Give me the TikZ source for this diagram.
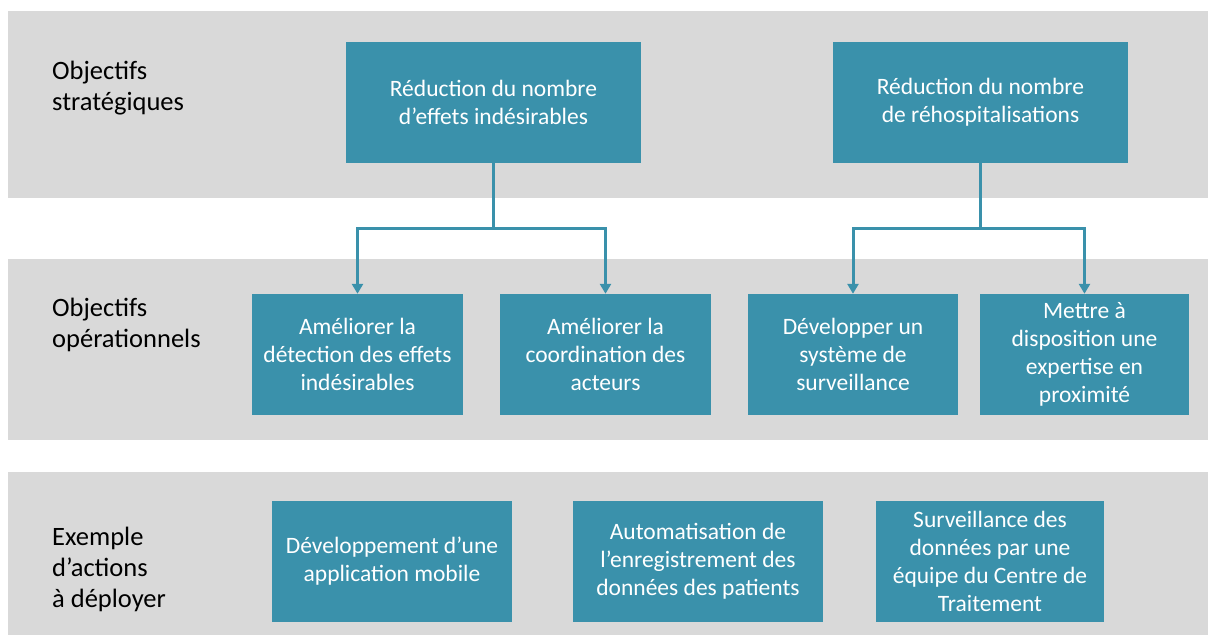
\documentclass[tikz,border=0pt]{standalone}
\usepackage{fontspec}
\setmainfont{Carlito}
\usetikzlibrary{arrows.meta}
\definecolor{bleu}{RGB}{58,145,171}
\definecolor{gris}{RGB}{217,217,217}
\tikzset{
  bande/.style={fill=gris,draw=none},
  boite/.style={fill=bleu,draw=none,text=white,align=center,inner sep=2pt,
    minimum height=121pt,font=\fontsize{23.5}{28}\selectfont},
  titre/.style={anchor=west,align=left,inner sep=0pt,text=black,
    font=\fontsize{26.5}{31}\selectfont},
  fleche/.style={draw=bleu,line width=3pt,-{Triangle[width=11pt,length=10pt]}}
}
\begin{document}
\begin{tikzpicture}[x=1pt,y=-1pt]
  \useasboundingbox (0,0) rectangle (1208,635);
  % les trois bandes
  \fill[bande] (8,11) rectangle (1208,198);
  \fill[bande] (8,259) rectangle (1208,440);
  \fill[bande] (8,472) rectangle (1208,635);
  % titres des niveaux
  \node[titre] (tstrat) at (52,88) {Objectifs\\strat\'egiques};
  \node[titre] (toper) at (52,325) {Objectifs\\op\'erationnels};
  \node[titre] (tact) at (52,569) {Exemple\\d’actions\\à déployer};
  % objectifs strategiques
  \node[boite,minimum width=295pt] (s1) at (493.5,102.5) {Réduction du nombre\\d’effets indésirables};
  \node[boite,minimum width=295pt] (s2) at (980.5,102.5) {Réduction du nombre\\de réhospitalisations};
  % objectifs operationnels
  \node[boite,minimum width=211pt] (o1) at (357.5,354.5) {Améliorer la\\détection des effets\\indésirables};
  \node[boite,minimum width=211pt] (o2) at (605.5,354.5) {Améliorer la\\coordination des\\acteurs};
  \node[boite,minimum width=210pt] (o3) at (853,354.5) {Développer un\\système de\\surveillance};
  \node[boite,minimum width=209pt] (o4) at (1084.5,354.5) {Mettre à\\disposition une\\expertise en\\proximité};
  % actions
  \node[boite,minimum width=240pt] (a1) at (392,561.5) {Développement d’une\\application mobile};
  \node[boite,minimum width=250pt] (a2) at (698,561.5) {Automatisation de\\l’enregistrement des\\données des patients};
  \node[boite,minimum width=228pt] (a3) at (990,561.5) {Surveillance des\\données par une\\équipe du Centre de\\Traitement};
  % liens
  \draw[fleche] (s1.south) -- ++(0,65) -| (o1.north);
  \draw[fleche] (s1.south) -- ++(0,65) -| (o2.north);
  \draw[fleche] (s2.south) -- ++(0,65) -| (o3.north);
  \draw[fleche] (s2.south) -- ++(0,65) -| (o4.north);
\end{tikzpicture}
\end{document}
